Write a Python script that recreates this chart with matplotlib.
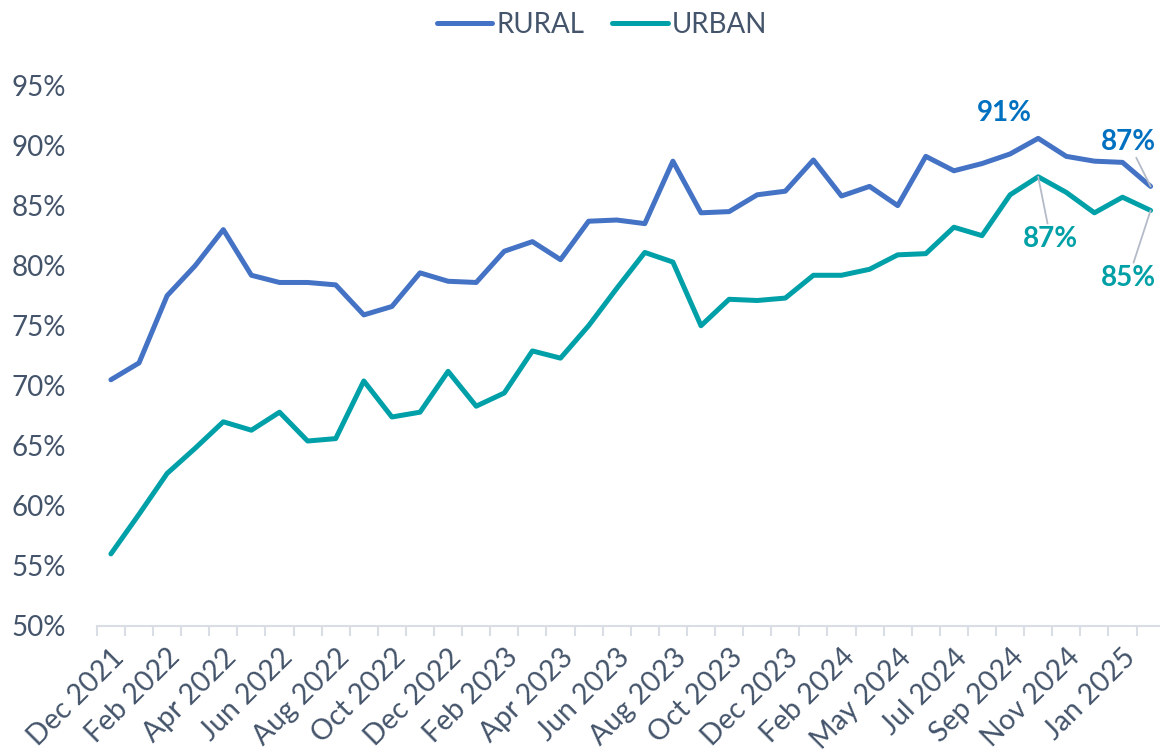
import numpy as np
import matplotlib
matplotlib.use("Agg")
import matplotlib.pyplot as plt

plt.rcParams['font.family'] = ['Lato', 'DejaVu Sans']

# Months shown on the category axis (Apr 2024 is not in the series)
months = [
    "Dec 2021",
    "Jan 2022", "Feb 2022", "Mar 2022", "Apr 2022", "May 2022", "Jun 2022",
    "Jul 2022", "Aug 2022", "Sep 2022", "Oct 2022", "Nov 2022", "Dec 2022",
    "Jan 2023", "Feb 2023", "Mar 2023", "Apr 2023", "May 2023", "Jun 2023",
    "Jul 2023", "Aug 2023", "Sep 2023", "Oct 2023", "Nov 2023", "Dec 2023",
    "Jan 2024", "Feb 2024", "Mar 2024", "May 2024", "Jun 2024", "Jul 2024",
    "Aug 2024", "Sep 2024", "Oct 2024", "Nov 2024", "Dec 2024",
    "Jan 2025", "Feb 2025",
]

# Share (%) per month
rural = [70.5, 71.9, 77.5, 80.0, 83.0, 79.2, 78.6, 78.6, 78.4, 75.9, 76.6, 79.4,
         78.7, 78.6, 81.2, 82.0, 80.5, 83.7, 83.8, 83.5, 88.7, 84.4, 84.5, 85.9,
         86.2, 88.8, 85.8, 86.6, 85.0, 89.1, 87.9, 88.5, 89.3, 90.6, 89.1, 88.7,
         88.6, 86.6]
urban = [56.0, 59.3, 62.7, 64.8, 67.0, 66.3, 67.8, 65.4, 65.6, 70.4, 67.4, 67.8,
         71.2, 68.3, 69.4, 72.9, 72.3, 75.0, 78.1, 81.1, 80.3, 75.0, 77.2, 77.1,
         77.3, 79.2, 79.2, 79.7, 80.9, 81.0, 83.2, 82.5, 85.9, 87.4, 86.1, 84.4,
         85.7, 84.6]

RURAL_COLOR = "#4472C4"
URBAN_COLOR = "#00A0A8"
RURAL_LABEL = "#0070C0"
URBAN_LABEL = "#00A0A6"
TEXT_COLOR = "#44546A"
AXIS_COLOR = "#D9DEE4"
LEADER_COLOR = "#B4BBC8"

n = len(months)
x = np.arange(n)

fig = plt.figure(figsize=(11.6, 7.54), dpi=100)
ax = fig.add_axes([0.0835, 0.1698, 0.9205, 0.7168])

ax.plot(x, rural, color=RURAL_COLOR, lw=3.6, label="RURAL",
        solid_joinstyle='round', solid_capstyle='round')
ax.plot(x, urban, color=URBAN_COLOR, lw=3.6, label="URBAN",
        solid_joinstyle='round', solid_capstyle='round')

ax.set_xlim(-0.5, n - 0.5)
ax.set_ylim(50, 95)

# Y axis: percentage labels, no ticks or line
ax.set_yticks(range(50, 100, 5))
ax.set_yticklabels([f"{v}%" for v in range(50, 100, 5)])
ax.tick_params(axis='y', length=0, pad=22, labelsize=20, labelcolor=TEXT_COLOR)

# X axis: label every second month, tick marks between categories
ax.set_xticks(x[::2])
ax.set_xticklabels(months[::2], rotation=45, ha='right', rotation_mode='anchor')
ax.set_xticks(np.arange(-0.5, n, 1), minor=True)
ax.tick_params(axis='x', which='major', length=0, pad=13, labelsize=20.5,
               labelcolor=TEXT_COLOR)
ax.tick_params(axis='x', which='minor', length=7, width=1.5, color=AXIS_COLOR)

for side in ['top', 'right', 'left']:
    ax.spines[side].set_visible(False)
ax.spines['bottom'].set_color(AXIS_COLOR)
ax.spines['bottom'].set_linewidth(1.5)


def label_point(series, idx, color, offset, leader):
    props = None
    if leader:
        props = dict(arrowstyle='-', color=LEADER_COLOR, lw=1.3,
                     shrinkA=0, shrinkB=0)
    ax.annotate(f"{round(series[idx])}%", xy=(idx, series[idx]),
                xytext=offset, textcoords='offset points',
                ha='center', va='center', fontsize=20, fontweight='bold',
                color=color, arrowprops=props)


r_peak = int(np.argmax(rural))
u_peak = int(np.argmax(urban))
label_point(rural, r_peak, RURAL_LABEL, (-24, 18), False)
label_point(rural, n - 1, RURAL_LABEL, (-16, 32), True)
label_point(urban, u_peak, URBAN_LABEL, (9, -45), True)
label_point(urban, n - 1, URBAN_LABEL, (-16, -49), True)

leg = fig.legend(loc='center', bbox_to_anchor=(0.519, 0.967), ncol=2,
                 frameon=False, fontsize=20, handlelength=2.0,
                 handletextpad=0.15, columnspacing=1.0)
for t in leg.get_texts():
    t.set_color(TEXT_COLOR)

fig.savefig("out.png", dpi=100)
